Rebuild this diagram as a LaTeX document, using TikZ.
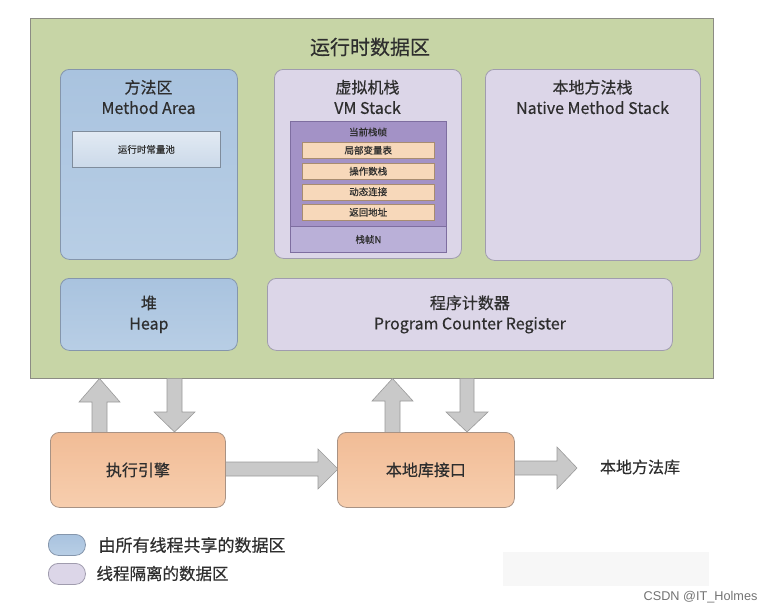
\documentclass[tikz,border=0pt]{standalone}
\usepackage{fontspec}
\setmainfont{Noto Sans CJK SC}[FakeBold=0.5]
\newfontfamily\wmfont{Liberation Sans}
\usetikzlibrary{calc}
\definecolor{greenbg}{HTML}{C7D5A6}
\definecolor{greenedge}{HTML}{8C8C84}
\definecolor{bluetop}{HTML}{A9C3DF}
\definecolor{bluebot}{HTML}{B8CEE5}
\definecolor{blueedge}{HTML}{8596AC}
\definecolor{purp}{HTML}{DCD6E8}
\definecolor{purpedge}{HTML}{A09CAE}
\definecolor{framedark}{HTML}{A392C6}
\definecolor{framelight}{HTML}{BAB0D8}
\definecolor{frameedge}{HTML}{7E6EA0}
\definecolor{barfill}{HTML}{F7D8BA}
\definecolor{baredge}{HTML}{A88C70}
\definecolor{pooltop}{HTML}{E2EAF3}
\definecolor{poolbot}{HTML}{CBD9E9}
\definecolor{pooledge}{HTML}{7F8C9C}
\definecolor{orangetop}{HTML}{F1BC96}
\definecolor{orangebot}{HTML}{F7CEAE}
\definecolor{orangeedge}{HTML}{A89284}
\definecolor{arrowfill}{HTML}{C9C9C9}
\definecolor{arrowedge}{HTML}{9A9A9A}
\definecolor{textc}{HTML}{2E2E2E}
\tikzset{
  box/.style={draw, rounded corners=9pt, line width=0.8pt, inner sep=0pt, anchor=north west, text=textc},
  shared/.style={box, draw=blueedge, top color=bluetop, bottom color=bluebot},
  private/.style={box, draw=purpedge, fill=purp},
  engine/.style={box, draw=orangeedge, top color=orangetop, bottom color=orangebot},
  blk/.style={draw=arrowedge, fill=arrowfill, line width=0.6pt, line join=miter},
  ttl/.style={font=\fontsize{16}{20.5}\selectfont, align=center, text=textc},
  small/.style={font=\fontsize{9.5}{11}\selectfont, text=textc},
  bar/.style={draw=baredge, fill=barfill, line width=0.5pt, inner sep=0pt, anchor=north west, minimum width=132pt, minimum height=16pt, small},
}
\begin{document}
\begin{tikzpicture}[x=1pt,y=-1pt]
\useasboundingbox (0,0) rectangle (776,614);
% runtime data area
\node[box, rounded corners=0pt, draw=greenedge, fill=greenbg, minimum width=683pt, minimum height=360pt] (rt) at (30,18) {};
\node[font=\fontsize{20}{24}\selectfont, text=textc] (rtt) at (370,47) {运行时数据区};
% method area
\node[shared, minimum width=177pt, minimum height=190pt] (ma) at (60,69) {};
\node[ttl] (mat) at (148.5,97) {方法区\\Method Area};
\node[box, rounded corners=0pt, draw=pooledge, top color=pooltop, bottom color=poolbot, minimum width=148pt, minimum height=36pt, small] (pool) at (72,131) {运行时常量池};
% VM stack
\node[private, minimum width=187pt, minimum height=189pt] (vm) at (274,69) {};
\node[ttl] (vmt) at (367.5,97) {虚拟机栈\\VM Stack};
\node[box, rounded corners=0pt, draw=frameedge, fill=framedark, minimum width=156pt, minimum height=105pt] (frame) at (290,121) {};
\node[small] (framet) at (368,132) {当前栈帧};
\node[box, rounded corners=0pt, draw=frameedge, fill=framelight, minimum width=156pt, minimum height=26pt, small] (frameN) at (290,226) {栈帧N};
\node[bar] (b1) at (302,142) {局部变量表};
\node[bar] (b2) at (302,163) {操作数栈};
\node[bar] (b3) at (302,183.5) {动态连接};
\node[bar] (b4) at (302,204) {返回地址};
% native method stack
\node[private, minimum width=215pt, minimum height=191pt] (ns) at (485,69) {};
\node[ttl] (nst) at (592.5,97) {本地方法栈\\Native Method Stack};
% heap & pc
\node[shared, minimum width=177pt, minimum height=72pt, ttl, anchor=north west] (heap) at (60,278) {堆\\Heap};
\node[private, minimum width=405pt, minimum height=72pt, ttl, anchor=north west] (pc) at (267,278) {程序计数器\\Program Counter Register};
% block arrows
\draw[blk] (92,432) -- (92,402) -- (79,402) -- (99.5,378.5) -- (120,402) -- (107,402) -- (107,432);
\draw[blk] (167,378.5) -- (167,412) -- (154,412) -- (174.5,432) -- (195,412) -- (182,412) -- (182,378.5);
\draw[blk] (385,432) -- (385,401) -- (372,401) -- (392.5,378.5) -- (413,401) -- (400,401) -- (400,432);
\draw[blk] (460,378.5) -- (460,412) -- (446,412) -- (467,432) -- (488,412) -- (474,412) -- (474,378.5);
\draw[blk] (225,462) -- (318,462) -- (318,449) -- (338,469) -- (318,489) -- (318,476) -- (225,476);
\draw[blk] (514,461) -- (557,461) -- (557,447) -- (577,468) -- (557,489) -- (557,475) -- (514,475);
% engine boxes
\node[engine, minimum width=175pt, minimum height=75pt, ttl, anchor=north west] (exec) at (50,432) {执行引擎};
\node[engine, minimum width=177pt, minimum height=75pt, ttl, anchor=north west] (nli) at (337,432) {本地库接口};
\node[ttl] (nlib) at (640,467) {本地方法库};
% legend
\node[shared, rounded corners=10pt, minimum width=37pt, minimum height=21pt] (lg1) at (48,534) {};
\node[anchor=west, font=\fontsize{17}{20}\selectfont, text=textc] (lg1t) at (95,545) {由所有线程共享的数据区};
\node[private, rounded corners=10pt, minimum width=37pt, minimum height=21pt] (lg2) at (48,563) {};
\node[anchor=west, font=\fontsize{16.5}{20}\selectfont, text=textc] (lg2t) at (93,573.5) {线程隔离的数据区};
% bottom right
\fill[black!3] (503,552) rectangle (709,586);
\node[anchor=east, font=\wmfont\fontsize{12.7}{15}\selectfont, text=black!55] (wm) at (761,597) {CSDN @IT\_Holmes};
\end{tikzpicture}
\end{document}
